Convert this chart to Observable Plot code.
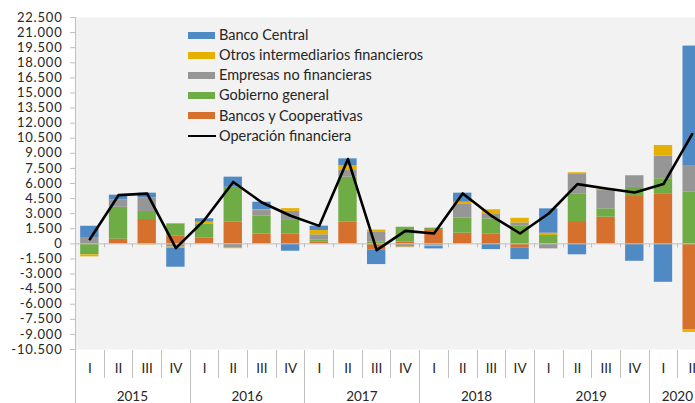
<!DOCTYPE html>
<html><head><meta charset="utf-8">
<script src="https://cdn.jsdelivr.net/npm/d3@7"></script>
<script src="https://cdn.jsdelivr.net/npm/@observablehq/plot@0.6"></script>
<style>
html,body{margin:0;padding:0;background:#fff;overflow:hidden;width:695px;height:403px;}
#wrap{position:relative;width:706px;height:403px;font-family:Lato,sans-serif;}
#legend{position:absolute;left:188px;top:25px;font-size:14.5px;color:#262626;line-height:1;}
.row{display:flex;align-items:center;height:20.2px;}
.sw{width:27px;height:7px;margin-right:4px;flex:none;}
.ln{width:28px;height:2.4px;margin-right:3px;background:#000;flex:none;}
</style></head><body><div id="wrap"><div id="legend"></div></div>
<script>
const years = ["2015","2016","2017","2018","2019","2020"];
const quarterLabels = ["I","II","III","IV"];
const seriesNames = ["Bancos y Cooperativas","Gobierno general","Empresas no financieras","Otros intermediarios financieros","Banco Central"];
const seriesColors = ["#d6702d","#6fac46","#969696","#e6b000","#4f8ac4"];
const lineName = "Operación financiera";
const yTicks = [-10500,-9000,-7500,-6000,-4500,-3000,-1500,0,1500,3000,4500,6000,7500,9000,10500,12000,13500,15000,16500,18000,19500,21000,22500];

// 2015-I ... 2020-II
const bancos       = [0, 460, 2420, 760,   600, 2150, 960, 1000,   160, 2150, -600, 160,   1330, 1060, 1000, -400,   0, 2220, 2650, 4710,   4980, -8530];
const gobierno     = [-1090, 3180, 800, 1230,   1330, 3480, 1790, 1330,   240, 4480, 200, 1490,   230, 1490, 1490, 1750,   830, 2760, 830, 900,   1490, 5130];
const empresas     = [560, 740, 1360, -330,   0, -430, 560, 900,   500, 660, 1000, -330,   -200, 1430, 500, 330,   -500, 1990, 1820, 1160,   2250, 2590];
const otros        = [-200, 0, -100, -100,   230, -50, 100, 270,   430, 500, 170, -50,   -70, 160, 400, 460,   230, 100, 170, 0,   1060, -270];
const bancoCentral = [1190, 460, 460, -1890,   330, 1000, 730, -730,   430, 660, -1460, 0,   -230, 900, -570, -1160,   2420, -1090, 0, -1730,   -3820, 11940];
const operacion    = [460, 4840, 4990, -430,   2390, 6150, 4110, 2790,   1790, 8430, -630, 1290,   1030, 5010, 2790, 1030,   3020, 5940, 5500, 5110,   5940, 10910];

const seriesValues = [bancos, gobierno, empresas, otros, bancoCentral];
const quarters = years.flatMap(y => quarterLabels.map(q => y + "-" + q)).slice(0, operacion.length);

const rows = [];
quarters.forEach((q, i) => seriesValues.forEach((arr, s) => rows.push({q, serie: seriesNames[s], v: arr[i]})));
const lineRows = quarters.map((q, i) => ({q, v: operacion[i]}));

const loc = d3.formatLocale({decimal: ",", thousands: ".", grouping: [3], currency: ["", ""], minus: "-"});
const fmt = loc.format(",");

const axisColor = "#bfbfbf";
const textColor = "#262626";
const fsY = 13;
const fsX = 13.5;

const plot = Plot.plot({
  width: 706, height: 403,
  marginLeft: 75, marginRight: 0, marginTop: 17, marginBottom: 54,
  style: {fontFamily: "Lato, sans-serif", fontSize: fsX + "px", color: textColor, background: "transparent", overflow: "visible"},
  x: {domain: quarters, paddingInner: 0.36, paddingOuter: 0.18, round: false, axis: null},
  y: {domain: [-10500, 22500], axis: null},
  color: {domain: seriesNames, range: seriesColors},
  marks: [
    Plot.frame({fill: "#f2f2f2", stroke: null}),
    Plot.barY(rows, {x: "q", y: "v", fill: "serie", order: seriesNames, inset: 0}),
    Plot.ruleY([0], {stroke: axisColor, strokeWidth: 1}),
    Plot.lineY(lineRows, {x: "q", y: "v", stroke: "#000", strokeWidth: 2.6}),
    Plot.axisY(yTicks, {anchor: "left", label: null, tickFormat: fmt, tickSize: 5, tickPadding: 8, stroke: axisColor, fill: textColor, fontSize: fsY}),
    Plot.axisX({anchor: "bottom", label: null, tickSize: 0, tickPadding: 14, tickFormat: d => d.split("-")[1], fill: textColor, fontSize: fsX})
  ]
});

document.getElementById("wrap").appendChild(plot);
// widen the y labels slightly (Calibri-like spacing)
d3.select(plot).selectAll("[aria-label='y-axis tick label'] text").style("letter-spacing", "0.8px");

// separators, axis line and year labels from the x scale
const xs = plot.scale("x");
const ys = plot.scale("y");
const step = xs.step ?? xs.bandwidth / (1 - 0.36);
const gap = step - xs.bandwidth;
const bound = i => i < quarters.length ? xs.apply(quarters[i]) - gap / 2 : xs.apply(quarters[quarters.length - 1]) - gap / 2 + step;
const yBottom = ys.apply(-10500), yTop = ys.apply(22500), y0 = ys.apply(0);
const g = d3.select(plot).append("g").attr("stroke", axisColor).attr("stroke-width", 1);
g.append("line").attr("x1", bound(0) + 0.5).attr("x2", bound(0) + 0.5).attr("y1", yTop).attr("y2", 403);
for (let i = 1; i <= quarters.length; i++) {
  const x = Math.round(bound(i)) + 0.5;
  const isYear = i % 4 === 0;
  g.append("line").attr("x1", x).attr("x2", x).attr("y1", yBottom + 1).attr("y2", isYear ? 403 : 378);
  g.append("line").attr("x1", x).attr("x2", x).attr("y1", y0).attr("y2", y0 + 4);
}
const tg = d3.select(plot).append("g").attr("fill", textColor).attr("font-size", fsX).attr("text-anchor", "middle");
years.forEach((y, k) => {
  const first = k * 4;
  if (first >= quarters.length) return;
  const last = Math.min(first + 3, quarters.length - 1);
  const cx = (bound(first) + bound(last + 1)) / 2;
  tg.append("text").attr("x", cx).attr("y", 401).text(y);
});

// legend
const legend = d3.select("#legend");
seriesNames.slice().reverse().forEach(name => {
  const r = legend.append("div").attr("class", "row");
  r.append("div").attr("class", "sw").style("background", seriesColors[seriesNames.indexOf(name)]);
  r.append("span").text(name);
});
const lr = legend.append("div").attr("class", "row");
lr.append("div").attr("class", "ln");
lr.append("span").text(lineName);
</script>
</body></html>
